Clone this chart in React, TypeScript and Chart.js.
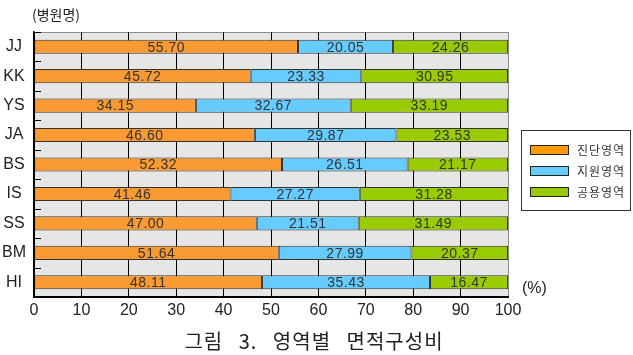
import React, { useEffect, useRef } from "react";
import { Chart, registerables } from "chart.js";

Chart.register(...registerables);

const categories = ["JJ", "KK", "YS", "JA", "BS", "IS", "SS", "BM", "HI"];
const diagnosis = [55.7, 45.72, 34.15, 46.6, 52.32, 41.46, 47.0, 51.64, 48.11];
const support = [20.05, 23.33, 32.67, 29.87, 26.51, 27.27, 21.51, 27.99, 35.43];
const common = [24.26, 30.95, 33.19, 23.53, 21.17, 31.28, 31.49, 20.37, 16.47];
const seriesNames = ["진단영역", "지원영역", "공용영역"];
const barColors = ["#FA9A32", "#66CCFF", "#99CC00"];
const legendColors = ["#FF9900", "#66CCFF", "#99CC00"];
const xMin = 0;
const xMax = 100;
const xStep = 10;
const yAxisTitle = "(병원명)";
const xAxisUnit = "(%)";
const chartTitle = "그림 3. 영역별 면적구성비";

const LATIN = '"Liberation Sans", Arial, sans-serif';
const KR = '"Noto Sans CJK KR", sans-serif';

const decorPlugin = {
  id: "decor",
  beforeDraw(chart: any) {
    const { ctx, chartArea: a } = chart;
    ctx.save();
    ctx.fillStyle = "#E6E6E6";
    ctx.fillRect(a.left, a.top, a.right - a.left, a.bottom - a.top);
    ctx.strokeStyle = "#8C8C8C";
    ctx.lineWidth = 1;
    ctx.beginPath();
    ctx.moveTo(a.left, Math.round(a.top) + 0.5);
    ctx.lineTo(a.right, Math.round(a.top) + 0.5);
    ctx.stroke();
    ctx.restore();
  },
  afterDatasetsDraw(chart: any) {
    const { ctx, chartArea: a } = chart;
    const yScale = chart.scales.y;
    const pitch = yScale.getPixelForValue(1) - yScale.getPixelForValue(0);
    ctx.save();
    ctx.strokeStyle = "#000";
    ctx.lineWidth = 1;
    for (let i = 0; i < categories.length; i++) {
      const y = Math.round(yScale.getPixelForValue(i) - pitch / 2) + 0.5;
      ctx.beginPath();
      ctx.moveTo(a.left, y);
      ctx.lineTo(a.left + 7, y);
      ctx.stroke();
    }
    ctx.font = `14px ${LATIN}`;
    (ctx as any).letterSpacing = "0.5px";
    ctx.fillStyle = "#333";
    ctx.textAlign = "center";
    ctx.textBaseline = "middle";
    chart.data.datasets.forEach((ds: any, di: number) => {
      const meta = chart.getDatasetMeta(di);
      meta.data.forEach((el: any, i: number) => {
        const x = (el.x + el.base) / 2;
        ctx.fillText(Number(ds.data[i]).toFixed(2), x, el.y + 1);
      });
    });
    (ctx as any).letterSpacing = "0px";
    ctx.restore();
  },
  afterDraw(chart: any) {
    const { ctx } = chart;
    ctx.save();
    ctx.fillStyle = "#222";
    ctx.textBaseline = "middle";
    ctx.textAlign = "left";
    ctx.font = `14px ${KR}`;
    ctx.fillText(yAxisTitle, 32, 15);
    ctx.font = `16px ${LATIN}`;
    ctx.fillText(xAxisUnit, 522, 289);
    ctx.font = `20px ${KR}`;
    ctx.textAlign = "center";
    (ctx as any).letterSpacing = "1px";
    (ctx as any).wordSpacing = "10px";
    ctx.fillText(chartTitle, 314, 341);
    (ctx as any).wordSpacing = "0px";
    ctx.strokeStyle = "#333";
    ctx.lineWidth = 1;
    ctx.strokeRect(521.5, 130.5, 109, 80);
    const rows = [150, 171, 192];
    ctx.font = `12px ${KR}`;
    (ctx as any).letterSpacing = "1px";
    ctx.textAlign = "left";
    seriesNames.forEach((name, i) => {
      ctx.fillStyle = legendColors[i];
      ctx.fillRect(530.5, rows[i] - 4.5, 38, 9);
      ctx.strokeStyle = "#222";
      ctx.strokeRect(530.5, rows[i] - 4.5, 38, 9);
      ctx.fillStyle = "#333";
      ctx.fillText(name, 577, rows[i]);
    });
    (ctx as any).letterSpacing = "0px";
    ctx.restore();
  },
};

export default function App() {
  const ref = useRef<HTMLCanvasElement>(null);
  useEffect(() => {
    document.body.style.margin = "0";
    const series = [diagnosis, support, common];
    const chart = new Chart(ref.current!, {
      type: "bar",
      data: {
        labels: categories,
        datasets: series.map((d, i) => ({
          label: seriesNames[i],
          data: d,
          backgroundColor: barColors[i],
          borderColor: "#333",
          borderWidth: 1,
          borderSkipped: false,
          barPercentage: 0.48,
          categoryPercentage: 1,
        })),
      },
      options: {
        indexAxis: "y",
        responsive: false,
        animation: false,
        layout: { padding: { top: 32, right: 125, left: 0, bottom: 0 } },
        plugins: { legend: { display: false }, tooltip: { enabled: false } },
        scales: {
          x: {
            stacked: true,
            min: xMin,
            max: xMax,
            ticks: {
              stepSize: xStep,
              color: "#222",
              font: { family: LATIN, size: 16 },
              padding: 4,
            },
            grid: {
              color: (c: any) => (c.index === 10 ? "#8C8C8C" : "#000"),
              lineWidth: 1,
              drawTicks: false,
            },
            border: { display: true, color: "#000", width: 2 },
            afterFit: (s: any) => {
              s.height = 58;
            },
          },
          y: {
            stacked: true,
            ticks: {
              crossAlign: "center",
              color: "#222",
              font: { family: LATIN, size: 16 },
              padding: 8,
            },
            grid: { drawOnChartArea: false, drawTicks: false },
            border: { display: true, color: "#000", width: 1.5 },
            afterFit: (s: any) => {
              s.width = 34;
            },
          },
        },
      },
      plugins: [decorPlugin],
    } as any);
    return () => chart.destroy();
  }, []);
  return (
    <div style={{ width: 633, height: 355 }}>
      <canvas ref={ref} width={633} height={355} />
    </div>
  );
}
